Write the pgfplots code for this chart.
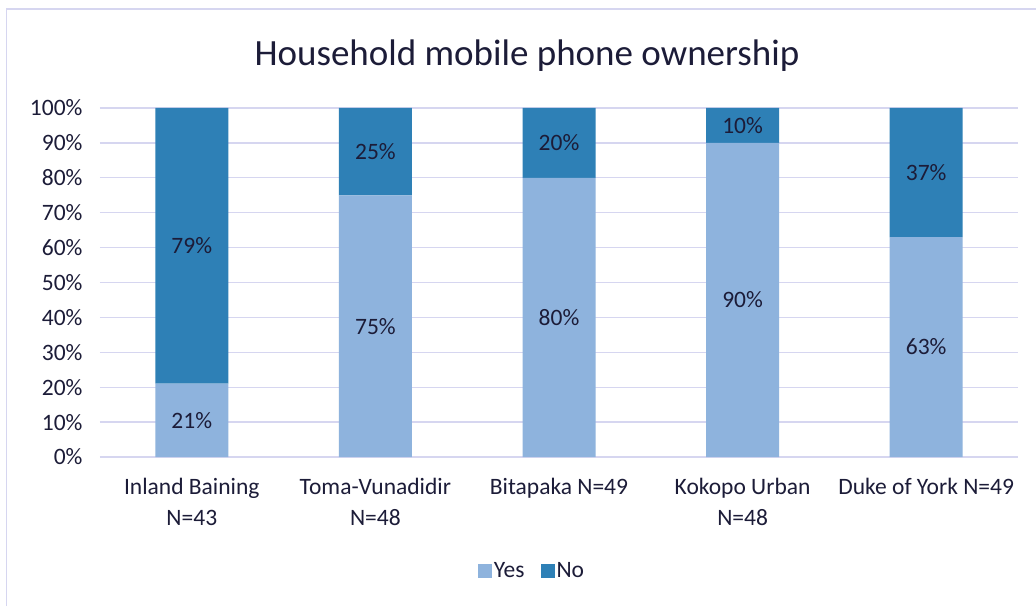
\documentclass[border=0pt]{standalone}
\usepackage{fontspec}
\setmainfont{Carlito}
\usepackage{pgfplots}
\pgfplotsset{compat=1.18}
\definecolor{yescol}{HTML}{8EB3DD}
\definecolor{nocol}{HTML}{2E80B6}
\definecolor{gridcol}{HTML}{D6D6F0}
\definecolor{txtcol}{HTML}{1C1C38}
\pgfplotsset{geom/.style={at={(100pt,149pt)}, anchor=south west,
  width=918pt, height=349pt, scale only axis,
  xmin=-0.5, xmax=4.5, ymin=0, ymax=100, clip=false}}
\begin{document}
\begin{tikzpicture}[x=1pt,y=1pt]
\useasboundingbox (0,0) rectangle (1036,606);
\fill[white] (0,0) rectangle (1036,606);
\draw[gridcol, line width=1.3pt] (6.5,0) -- (6.5,597) -- (1036,597);
\node[text=txtcol, font=\fontsize{37}{44}\selectfont] at (527,550) {Household mobile phone ownership};
\begin{axis}[geom,
  ybar stacked, bar width=73pt,
  xtick={0,1,2,3,4},
  xticklabels={{Inland Baining\\N=43},{Toma-Vunadidir\\N=48},{Bitapaka N=49},{Kokopo Urban\\N=48},{Duke of York N=49}},
  xticklabel style={align=center, font=\fontsize{23.5}{31}\selectfont, text=txtcol, yshift=-18pt},
  ytick={0,10,...,100},
  yticklabels={0\%,10\%,20\%,30\%,40\%,50\%,60\%,70\%,80\%,90\%,100\%},
  yticklabel style={font=\fontsize{23.5}{28}\selectfont, text=txtcol, xshift=-14pt},
  major tick length=0pt,
  ymajorgrids, grid style={gridcol, line width=1.3pt},
  axis line style={draw=none},
  legend style={at={(0.4706,-0.3266)}, anchor=center, draw=none, fill=none,
    legend columns=2, font=\fontsize{23.5}{28}\selectfont, text=txtcol,
    /tikz/every even column/.append style={column sep=14pt}},
  legend image code/.code={\fill[#1] (0pt,-7pt) rectangle (14pt,7pt);},
]
\addplot[fill=yescol, draw=none] coordinates {(0,21) (1,75) (2,80) (3,90) (4,63)};
\addplot[fill=nocol, draw=none] coordinates {(0,79) (1,25) (2,20) (3,10) (4,37)};
\legend{Yes,No}
\end{axis}
\begin{axis}[geom, hide axis]
\addplot[draw=none, mark=none, nodes near coords, point meta=explicit symbolic,
  every node near coord/.style={anchor=center, text=txtcol, font=\fontsize{23.5}{28}\selectfont}]
  coordinates {(0,10.5)[21\%] (0,60.5)[79\%] (1,37.5)[75\%] (1,87.5)[25\%]
   (2,40)[80\%] (2,90)[20\%] (3,45)[90\%] (3,95)[10\%] (4,31.5)[63\%] (4,81.5)[37\%]};
\end{axis}
\end{tikzpicture}
\end{document}
